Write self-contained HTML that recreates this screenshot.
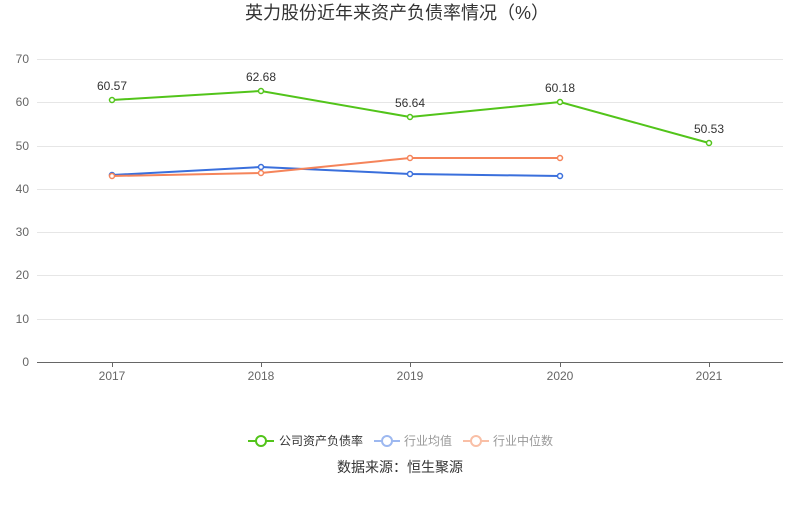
<!DOCTYPE html><html><head><meta charset="utf-8"><style>body{margin:0;background:#fff}svg text{font-family:"Liberation Sans","Noto Sans CJK SC",sans-serif}</style></head><body>
<svg width="800" height="501" xmlns="http://www.w3.org/2000/svg">
<text x="397" y="19" text-anchor="middle" font-size="18" fill="#333">英力股份近年来资产负债率情况（%）</text>
<g stroke="#e6e6e6" stroke-width="1">
<line x1="37" x2="783" y1="59.5" y2="59.5"/><line x1="37" x2="783" y1="102.5" y2="102.5"/><line x1="37" x2="783" y1="146.5" y2="146.5"/><line x1="37" x2="783" y1="189.5" y2="189.5"/><line x1="37" x2="783" y1="232.5" y2="232.5"/><line x1="37" x2="783" y1="275.5" y2="275.5"/><line x1="37" x2="783" y1="319.5" y2="319.5"/></g>
<line x1="37" x2="783" y1="362.5" y2="362.5" stroke="#666"/>
<g stroke="#666"><line x1="112.5" x2="112.5" y1="362" y2="367"/><line x1="261.5" x2="261.5" y1="362" y2="367"/><line x1="410.5" x2="410.5" y1="362" y2="367"/><line x1="560.5" x2="560.5" y1="362" y2="367"/><line x1="709.5" x2="709.5" y1="362" y2="367"/></g>
<g font-size="12" fill="#666" text-anchor="end"><text x="29" y="63">70</text><text x="29" y="106">60</text><text x="29" y="150">50</text><text x="29" y="193">40</text><text x="29" y="236">30</text><text x="29" y="279">20</text><text x="29" y="323">10</text><text x="29" y="366">0</text></g>
<g font-size="12" fill="#666" text-anchor="middle"><text x="112" y="380">2017</text><text x="261" y="380">2018</text><text x="410" y="380">2019</text><text x="560" y="380">2020</text><text x="709" y="380">2021</text></g>
<polyline points="112,175 261,167 410,174 560,176" fill="none" stroke="#3a6fdc" stroke-width="2"/>
<polyline points="112,176 261,173 410,158 560,158" fill="none" stroke="#f5845a" stroke-width="2"/>
<polyline points="112,100 261,91 410,117 560,102 709,143" fill="none" stroke="#52c41a" stroke-width="2"/>
<g fill="#fff" stroke-width="1.5">
<g stroke="#3a6fdc"><circle cx="112" cy="175" r="2.5"/><circle cx="261" cy="167" r="2.5"/><circle cx="410" cy="174" r="2.5"/><circle cx="560" cy="176" r="2.5"/></g>
<g stroke="#f5845a"><circle cx="112" cy="176" r="2.5"/><circle cx="261" cy="173" r="2.5"/><circle cx="410" cy="158" r="2.5"/><circle cx="560" cy="158" r="2.5"/></g>
<g stroke="#52c41a"><circle cx="112" cy="100" r="2.5"/><circle cx="261" cy="91" r="2.5"/><circle cx="410" cy="117" r="2.5"/><circle cx="560" cy="102" r="2.5"/><circle cx="709" cy="143" r="2.5"/></g></g>
<g font-size="12" fill="#333" text-anchor="middle"><text x="112" y="90">60.57</text><text x="261" y="81">62.68</text><text x="410" y="107">56.64</text><text x="560" y="92">60.18</text><text x="709" y="133">50.53</text></g>
<g font-size="12">
<line x1="248" x2="274" y1="441" y2="441" stroke="#52c41a" stroke-width="2"/><circle cx="261" cy="441" r="5" fill="#fff" stroke="#52c41a" stroke-width="2"/><text x="279" y="445" fill="#333">公司资产负债率</text>
<line x1="374" x2="400" y1="441" y2="441" stroke="#9db8f0" stroke-width="2"/><circle cx="387" cy="441" r="5" fill="#fff" stroke="#9db8f0" stroke-width="2"/><text x="404" y="445" fill="#999">行业均值</text>
<line x1="463" x2="489" y1="441" y2="441" stroke="#f9bfa6" stroke-width="2"/><circle cx="476" cy="441" r="5" fill="#fff" stroke="#f9bfa6" stroke-width="2"/><text x="493" y="445" fill="#999">行业中位数</text></g>
<text x="400" y="472" text-anchor="middle" font-size="14" fill="#333">数据来源：恒生聚源</text>
</svg></body></html>
